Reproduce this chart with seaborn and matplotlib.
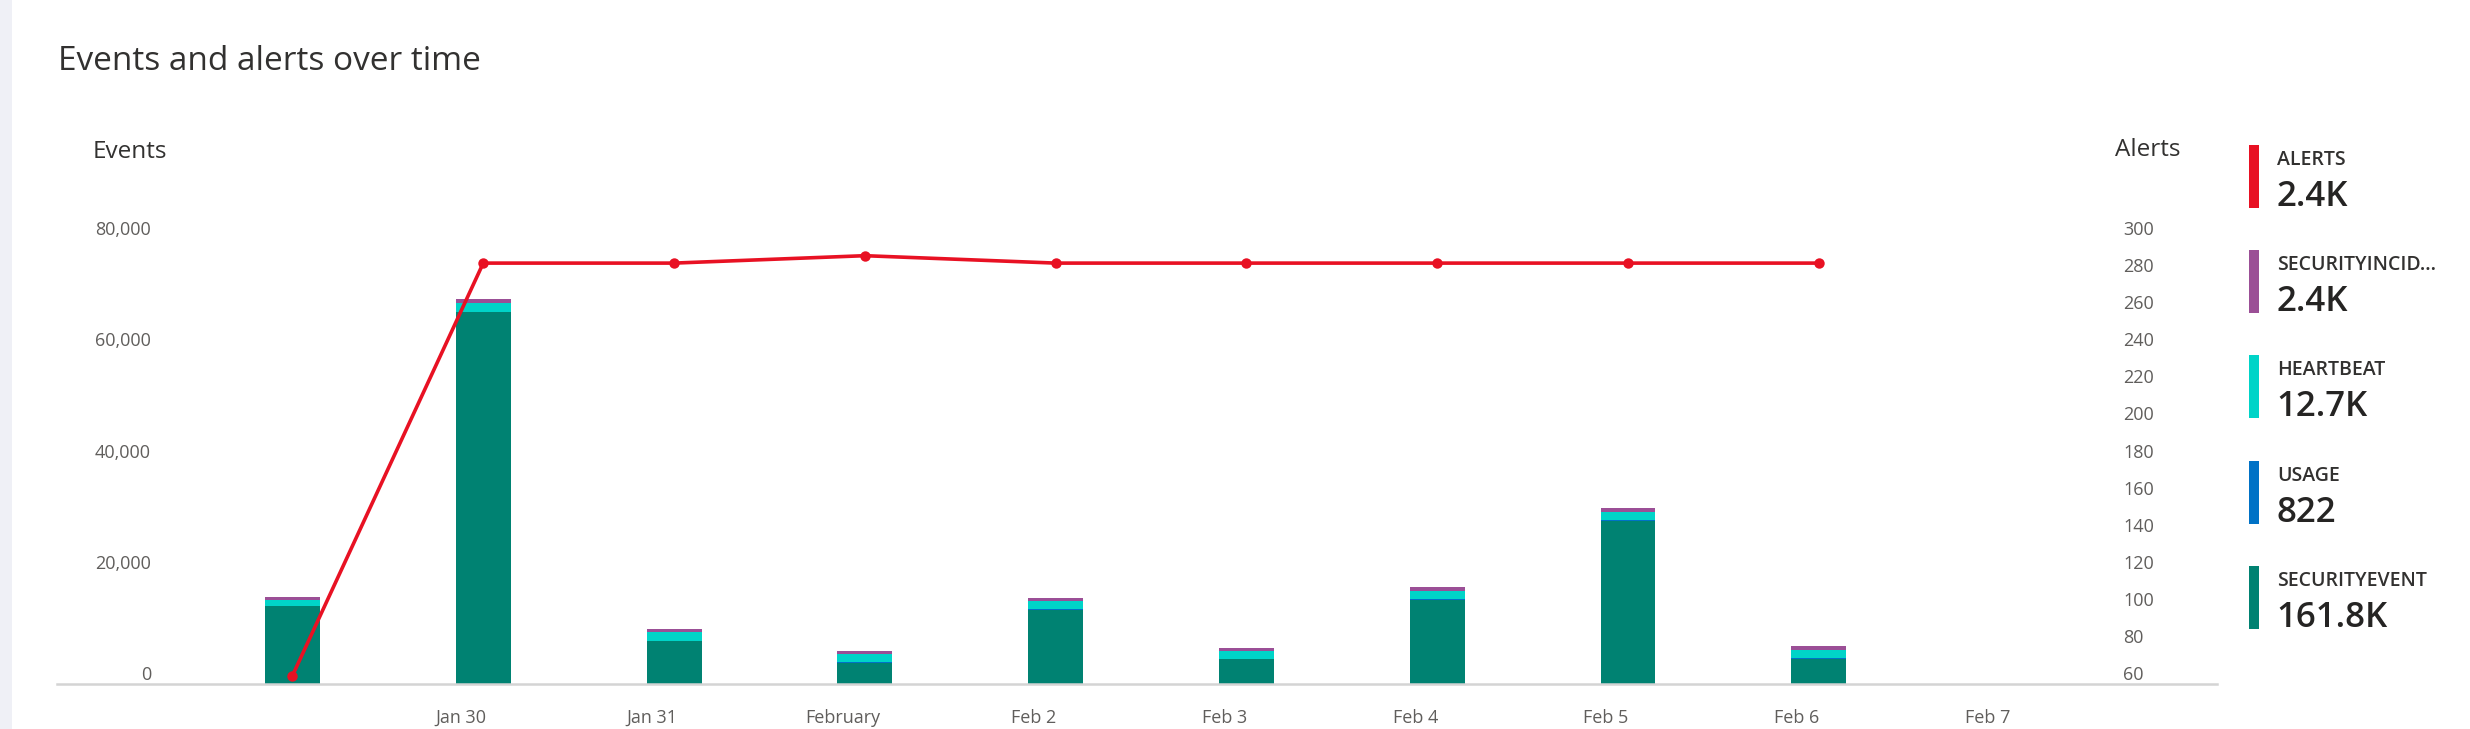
import numpy as np
import pandas as pd
import seaborn as sns
import matplotlib.pyplot as plt
from matplotlib.patches import Rectangle
from matplotlib.transforms import ScaledTranslation

# data
days = ['Jan 29', 'Jan 30', 'Jan 31', 'February', 'Feb 2', 'Feb 3',
        'Feb 4', 'Feb 5', 'Feb 6']
tick_days = ['Jan 30', 'Jan 31', 'February', 'Feb 2', 'Feb 3', 'Feb 4',
             'Feb 5', 'Feb 6', 'Feb 7']
security_event = [14000, 66800, 7730, 3780, 13360, 4440, 15160, 29360, 4550]
usage = [60, 100, 90, 90, 100, 90, 100, 100, 92]
heartbeat = [1080, 1550, 1500, 1500, 1500, 1440, 1500, 1440, 1560]
security_incident = [480, 800, 600, 600, 540, 540, 650, 660, 600]
alerts = [64.5, 287, 287, 291, 287, 287, 287, 287, 287]

legend_names = ['ALERTS', 'SECURITYINCID...', 'HEARTBEAT', 'USAGE', 'SECURITYEVENT']
legend_totals = ['2.4K', '2.4K', '12.7K', '822', '161.8K']
legend_colors = ['#e81123', '#9b4f96', '#00d4c8', '#0072c6', '#008272']

W, H = 2470, 729

sns.set_style('white')
plt.rcParams['font.family'] = ['Open Sans', 'DejaVu Sans']

df = pd.DataFrame({
    'day': np.tile(np.arange(len(days)), 4),
    'series': np.repeat(['SECURITYINCIDENT', 'HEARTBEAT', 'USAGE', 'SECURITYEVENT'], len(days)),
    'value': security_incident + heartbeat + usage + security_event,
})
palette = {'SECURITYINCIDENT': '#9b4f96', 'HEARTBEAT': '#00d4c8',
           'USAGE': '#0072c6', 'SECURITYEVENT': '#008272'}

fig = plt.figure(figsize=(W / 100, H / 100), dpi=100)
fig.patch.set_facecolor('white')
ax = fig.add_axes([57 / W, 45 / H, (2217 - 57) / W, (684 - 239) / H])

# stacked bars, SECURITYEVENT at the bottom
sns.histplot(data=df, x='day', weights='value', hue='series',
             hue_order=['SECURITYINCIDENT', 'HEARTBEAT', 'USAGE', 'SECURITYEVENT'],
             multiple='stack', discrete=True, shrink=0.288, palette=palette,
             alpha=1, linewidth=0, legend=False, ax=ax)

ax.set_xlim(-1.234, 10.087)
ax.set_ylim(0, 80000)
ax.set_xlabel('')
ax.set_ylabel('')
for s in ['top', 'left', 'right']:
    ax.spines[s].set_visible(False)
ax.spines['bottom'].set_color('#d4d4d4')
ax.spines['bottom'].set_linewidth(1.8)

ax.set_yticks([0, 20000, 40000, 60000, 80000])
ax.set_yticklabels([f'{v:,}' for v in [0, 20000, 40000, 60000, 80000]])
ax.tick_params(axis='y', length=0, pad=-67.7, labelsize=13, labelcolor='#605e5c')
for lbl in ax.get_yticklabels():
    lbl.set_va('bottom')

ax.set_xticks(np.arange(1, len(tick_days) + 1))
ax.set_xticklabels(tick_days)
ax.tick_params(axis='x', length=0, pad=18, labelsize=13, labelcolor='#605e5c')
shift = ScaledTranslation(-22 / 100, 0, fig.dpi_scale_trans)
for lbl in ax.get_xticklabels():
    lbl.set_transform(lbl.get_transform() + shift)

ax2 = ax.twinx()
sns.lineplot(x=np.arange(len(days)), y=alerts, ax=ax2, color='#e81123',
             linewidth=2.6, marker='o', markersize=7.5, markeredgewidth=0)
ax2.set_ylim(60, 300)
ax2.set_yticks(np.arange(60, 301, 20))
ax2.tick_params(axis='y', length=0, pad=-67.7, labelsize=13, labelcolor='#605e5c')
for lbl in ax2.get_yticklabels():
    lbl.set_va('bottom')
for s in ['top', 'left', 'right', 'bottom']:
    ax2.spines[s].set_visible(False)
ax2.set_ylabel('')

# page band on the left
fig.add_artist(Rectangle((0, 0), 12 / W, 1, transform=fig.transFigure,
                         facecolor='#eff0f6', edgecolor='none'))

fig.text(58 / W, 1 - 62 / H, 'Events and alerts over time', fontsize=24,
         color='#323130', va='center', ha='left')
fig.text(93 / W, 1 - 152 / H, 'Events', fontsize=17.5, color='#323130',
         va='center', ha='left')
fig.text(2115 / W, 1 - 150 / H, 'Alerts', fontsize=17.5, color='#323130',
         va='center', ha='left')

# legend column
for i, (name, total, color) in enumerate(zip(legend_names, legend_totals, legend_colors)):
    top = 145 + i * 105.2
    fig.add_artist(Rectangle((2249 / W, 1 - (top + 63) / H), 10 / W, 63 / H,
                             transform=fig.transFigure, facecolor=color,
                             edgecolor='none'))
    fig.text(2277 / W, 1 - (top + 20) / H, name, fontsize=14, weight='semibold',
             color='#323130', va='baseline', ha='left')
    fig.text(2276 / W, 1 - (top + 61) / H, total, fontsize=25, weight='semibold',
             color='#252423', va='baseline', ha='left')

fig.savefig('out.png', dpi=100, facecolor='white')
